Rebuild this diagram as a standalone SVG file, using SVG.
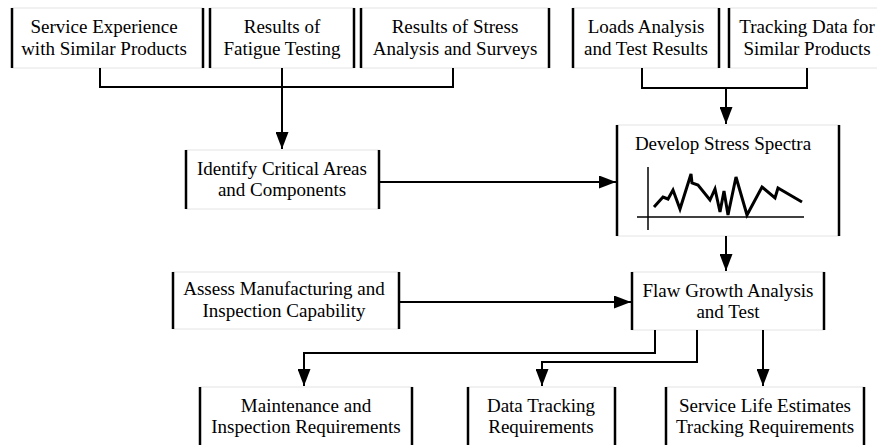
<svg xmlns="http://www.w3.org/2000/svg" width="877" height="445" viewBox="0 0 877 445">
<style>
.box{fill:#fff;stroke:#e4e4e4;stroke-width:1}
.side{stroke:#000;stroke-width:2.5}
.t{font-family:'Liberation Serif',Tinos,'Times New Roman','DejaVu Serif',serif;font-size:19px;fill:#000;text-anchor:middle}
.c{fill:none;stroke:#000;stroke-width:2}
</style>
<defs>
<marker id="ah" markerUnits="userSpaceOnUse" markerWidth="17" markerHeight="13" refX="17" refY="6.5" orient="auto">
<path d="M0,0 L17,6.5 L0,13 z" fill="#000"/>
</marker>
</defs>
<rect width="877" height="445" fill="#fff"/>
<g id="n1">
<rect class="box" x="12" y="8" width="191" height="60"/>
<line class="side" x1="12" y1="8" x2="12" y2="68"/><line class="side" x1="203" y1="8" x2="203" y2="68"/>
<text class="t" x="104" y="33">Service Experience</text>
<text class="t" x="104" y="55">with Similar Products</text>
</g>
<g id="n2">
<rect class="box" x="210" y="8" width="144" height="60"/>
<line class="side" x1="210" y1="8" x2="210" y2="68"/><line class="side" x1="354" y1="8" x2="354" y2="68"/>
<text class="t" x="282" y="33">Results of</text>
<text class="t" x="282" y="55">Fatigue Testing</text>
</g>
<g id="n3">
<rect class="box" x="361" y="8" width="188" height="60"/>
<line class="side" x1="361" y1="8" x2="361" y2="68"/><line class="side" x1="549" y1="8" x2="549" y2="68"/>
<text class="t" x="455" y="33">Results of Stress</text>
<text class="t" x="455" y="55">Analysis and Surveys</text>
</g>
<g id="n4">
<rect class="box" x="573" y="8" width="146" height="60"/>
<line class="side" x1="573" y1="8" x2="573" y2="68"/><line class="side" x1="719" y1="8" x2="719" y2="68"/>
<text class="t" x="646" y="33">Loads Analysis</text>
<text class="t" x="646" y="55">and Test Results</text>
</g>
<g id="n5">
<rect class="box" x="729" y="8" width="156" height="60"/>
<line class="side" x1="729" y1="8" x2="729" y2="68"/>
<text class="t" x="807" y="33">Tracking Data for</text>
<text class="t" x="807" y="55">Similar Products</text>
</g>
<g id="n6">
<rect class="box" x="186" y="150" width="193" height="59"/>
<line class="side" x1="186" y1="150" x2="186" y2="209"/><line class="side" x1="379" y1="150" x2="379" y2="209"/>
<text class="t" x="282" y="175">Identify Critical Areas</text>
<text class="t" x="282" y="196">and Components</text>
</g>
<g id="n7">
<rect class="box" x="617" y="125" width="222" height="111"/>
<line class="side" x1="617" y1="125" x2="617" y2="236"/><line class="side" x1="839" y1="125" x2="839" y2="236"/>
<text class="t" x="723" y="150">Develop Stress Spectra</text>
<line x1="648" y1="167" x2="648" y2="230" stroke="#000" stroke-width="1.5"/>
<line x1="637" y1="217" x2="804" y2="217" stroke="#000" stroke-width="1.5"/>
<polyline fill="none" stroke="#000" stroke-width="3" stroke-linejoin="miter" points="654,207 663,197 668,199 673,190 680,209 691,174 692,183 698,185 710,200 715,189 720,212 724,191 728,215 736,177 747,215 762,187 775,198 778,188 802,202"/>
</g>
<g id="n8">
<rect class="box" x="173" y="272" width="226" height="57"/>
<line class="side" x1="173" y1="272" x2="173" y2="329"/><line class="side" x1="399" y1="272" x2="399" y2="329"/>
<text class="t" x="284" y="295">Assess Manufacturing and</text>
<text class="t" x="284" y="317">Inspection Capability</text>
</g>
<g id="n9">
<rect class="box" x="632" y="272" width="192" height="58"/>
<line class="side" x1="632" y1="272" x2="632" y2="330"/><line class="side" x1="824" y1="272" x2="824" y2="330"/>
<text class="t" x="728" y="297">Flaw Growth Analysis</text>
<text class="t" x="728" y="318">and Test</text>
</g>
<g id="n10">
<rect class="box" x="200" y="387" width="212" height="70"/>
<line class="side" x1="200" y1="387" x2="200" y2="450"/><line class="side" x1="412" y1="387" x2="412" y2="450"/>
<text class="t" x="306" y="412">Maintenance and</text>
<text class="t" x="306" y="433">Inspection Requirements</text>
</g>
<g id="n11">
<rect class="box" x="468" y="387" width="147" height="70"/>
<line class="side" x1="468" y1="387" x2="468" y2="450"/><line class="side" x1="615" y1="387" x2="615" y2="450"/>
<text class="t" x="541" y="412">Data Tracking</text>
<text class="t" x="541" y="433">Requirements</text>
</g>
<g id="n12">
<rect class="box" x="666" y="387" width="198" height="70"/>
<line class="side" x1="666" y1="387" x2="666" y2="450"/><line class="side" x1="864" y1="387" x2="864" y2="450"/>
<text class="t" x="765" y="412">Service Life Estimates</text>
<text class="t" x="765" y="433">Tracking Requirements</text>
</g>
<g id="connectors">
<polyline class="c" points="100,68 100,87 453,87 453,68"/>
<line class="c" x1="282" y1="68" x2="282" y2="149" marker-end="url(#ah)"/>
<polyline class="c" points="642,68 642,88 807,88 807,68"/>
<line class="c" x1="726" y1="88" x2="726" y2="124" marker-end="url(#ah)"/>
<line class="c" x1="379" y1="182" x2="616" y2="182" marker-end="url(#ah)"/>
<line class="c" x1="726" y1="236" x2="726" y2="271" marker-end="url(#ah)"/>
<line class="c" x1="399" y1="302" x2="631" y2="302" marker-end="url(#ah)"/>
<polyline class="c" points="655,330 655,353 304,353 304,386" marker-end="url(#ah)"/>
<polyline class="c" points="697,330 697,362 542,362 542,386" marker-end="url(#ah)"/>
<line class="c" x1="763" y1="330" x2="763" y2="386" marker-end="url(#ah)"/>
</g>
</svg>
